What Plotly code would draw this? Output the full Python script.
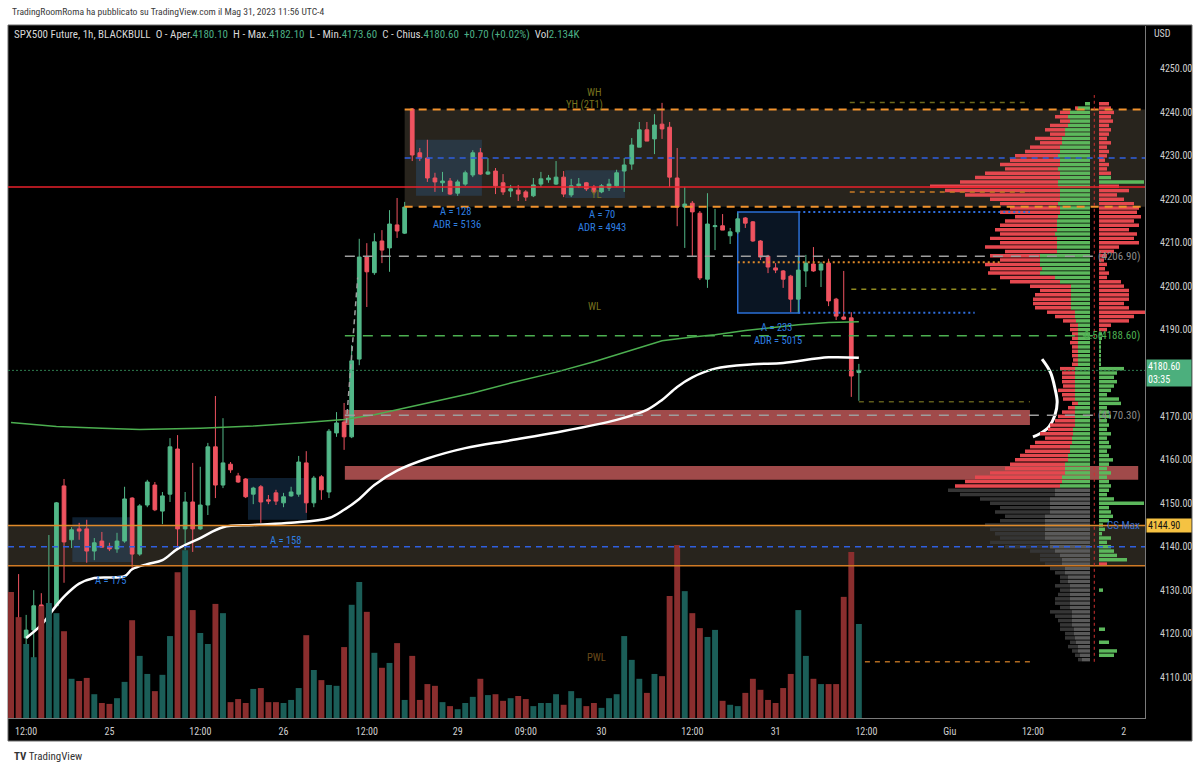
import plotly.graph_objects as go

# ---------------- data ----------------
opens = [4125.9, 4119.7, 4119.0, 4120.8, 4126.6, 4119.2, 4126.4, 4154.0, 4141.6, 4144.1,
         4144.1, 4139.0, 4141.3, 4140.1, 4139.5, 4141.3, 4151.2, 4138.3, 4149.6, 4154.2,
         4148.2, 4152.1, 4162.5, 4144.1, 4150.3, 4144.1, 4149.6, 4163.0, 4154.2, 4159.0,
         4156.3, 4155.6, 4152.1, 4153.8, 4150.8, 4152.4, 4150.1, 4151.7, 4152.1, 4159.3,
         4150.1, 4156.1, 4152.6, 4166.2, 4168.7, 4165.3, 4183.2, 4206.7, 4203.1, 4210.4,
         4208.8, 4214.1, 4212.2, 4240.8, 4230.7, 4229.5, 4224.9, 4223.8, 4224.2, 4221.4,
         4223.5, 4225.6, 4230.7, 4225.8, 4226.5, 4223.8, 4221.9, 4222.1, 4221.7, 4220.8,
         4223.5, 4224.5, 4223.5, 4225.1, 4221.0, 4223.1, 4223.8, 4222.8, 4221.7, 4222.6,
         4223.1, 4226.5, 4228.1, 4232.0, 4236.0, 4233.9, 4237.3, 4236.6, 4224.9, 4218.2,
         4219.1, 4216.8, 4201.6, 4213.7, 4213.9, 4211.6, 4212.5, 4215.7, 4214.8, 4210.4,
         4206.9, 4204.2, 4203.5, 4202.3, 4197.0, 4203.5, 4205.1, 4203.7, 4205.3, 4197.0,
         4192.9, 4192.7, 4180.1]
highs = [4128.7, 4133.7, 4124.3, 4130.0, 4129.3, 4142.7, 4150.3, 4155.6, 4144.5, 4145.5,
         4146.2, 4142.0, 4143.4, 4140.9, 4143.2, 4153.8, 4151.4, 4149.8, 4155.4, 4154.9,
         4152.6, 4165.0, 4165.7, 4152.6, 4159.3, 4158.4, 4163.9, 4174.7, 4169.6, 4159.5,
         4157.0, 4155.8, 4153.8, 4154.2, 4151.9, 4153.1, 4152.4, 4153.8, 4160.9, 4162.0,
         4156.3, 4156.5, 4167.1, 4171.0, 4173.1, 4186.4, 4210.9, 4209.9, 4212.2, 4212.9,
         4217.5, 4220.3, 4219.4, 4241.0, 4231.8, 4233.7, 4226.1, 4226.3, 4224.9, 4224.5,
         4226.6, 4231.3, 4231.8, 4229.5, 4227.2, 4225.8, 4223.3, 4223.3, 4222.1, 4224.9,
         4226.3, 4225.6, 4228.8, 4226.5, 4224.7, 4224.9, 4224.0, 4223.3, 4223.5, 4224.7,
         4226.8, 4229.5, 4234.1, 4237.8, 4237.8, 4239.6, 4242.2, 4237.8, 4231.8, 4222.8,
         4219.6, 4217.3, 4221.4, 4217.8, 4216.6, 4213.4, 4216.8, 4215.9, 4215.0, 4210.6,
         4207.2, 4205.3, 4203.7, 4202.6, 4206.9, 4207.2, 4209.0, 4205.6, 4206.3, 4197.3,
         4203.5, 4194.0, 4182.1]
lows = [4117.8, 4117.8, 4114.6, 4113.2, 4116.1, 4116.7, 4126.1, 4131.7, 4139.7, 4141.6,
        4136.3, 4136.9, 4139.7, 4139.0, 4138.6, 4140.9, 4134.6, 4137.9, 4149.1, 4148.2,
        4145.2, 4150.3, 4139.2, 4139.2, 4138.8, 4143.9, 4147.3, 4151.2, 4153.5, 4157.0,
        4154.7, 4151.2, 4149.8, 4145.5, 4149.8, 4149.6, 4149.1, 4151.5, 4151.5, 4147.8,
        4149.1, 4150.8, 4151.2, 4165.3, 4162.3, 4165.0, 4181.8, 4195.2, 4202.6, 4205.3,
        4203.3, 4211.1, 4212.0, 4228.8, 4228.8, 4224.0, 4221.7, 4221.7, 4221.0, 4220.8,
        4223.1, 4225.1, 4225.6, 4225.6, 4221.2, 4221.0, 4220.5, 4219.6, 4219.6, 4220.5,
        4222.8, 4223.8, 4223.3, 4220.5, 4220.5, 4222.6, 4221.9, 4221.4, 4221.4, 4221.9,
        4222.8, 4221.7, 4226.8, 4232.0, 4233.4, 4230.4, 4233.9, 4222.8, 4213.8, 4208.8,
        4206.7, 4201.4, 4199.6, 4208.3, 4212.9, 4209.7, 4212.0, 4213.4, 4210.2, 4206.0,
        4203.0, 4203.0, 4199.6, 4194.0, 4193.8, 4199.8, 4203.3, 4199.8, 4195.4, 4192.2,
        4192.2, 4174.5, 4173.6]
closes = [4119.2, 4118.8, 4120.8, 4126.4, 4119.2, 4126.1, 4150.1, 4141.1, 4143.9, 4143.6,
          4139.0, 4140.9, 4139.9, 4139.5, 4141.3, 4151.0, 4138.3, 4149.4, 4154.9, 4148.5,
          4151.7, 4163.0, 4144.1, 4150.3, 4144.1, 4149.6, 4163.0, 4154.2, 4159.3, 4157.7,
          4154.9, 4151.5, 4153.5, 4150.3, 4150.5, 4150.5, 4151.5, 4152.6, 4159.5, 4150.1,
          4155.8, 4153.1, 4166.6, 4168.5, 4165.3, 4182.8, 4206.7, 4203.3, 4210.2, 4208.3,
          4214.3, 4212.7, 4218.2, 4230.2, 4229.5, 4224.9, 4224.0, 4224.2, 4221.2, 4224.0,
          4226.1, 4230.7, 4225.8, 4226.3, 4223.1, 4221.7, 4222.4, 4221.2, 4220.5, 4223.3,
          4224.7, 4224.9, 4225.1, 4221.2, 4223.1, 4223.5, 4222.4, 4221.7, 4223.1, 4223.5,
          4226.1, 4227.9, 4232.5, 4236.0, 4233.4, 4237.1, 4236.2, 4225.1, 4218.2, 4218.9,
          4217.1, 4201.9, 4214.3, 4213.9, 4212.9, 4212.5, 4215.5, 4214.5, 4210.4, 4206.7,
          4204.4, 4203.7, 4201.6, 4197.0, 4203.7, 4205.3, 4203.5, 4205.1, 4196.6, 4193.1,
          4192.4, 4179.3, 4180.6]
volumes_k = [2.86, 2.29, 1.68, 1.38, 2.54, 2.61, 2.38, 1.97, 0.89, 0.84,
             0.91, 0.54, 0.34, 0.32, 0.45, 0.82, 2.22, 1.41, 1.00, 0.61,
             0.98, 1.86, 3.31, 3.81, 2.45, 1.93, 1.68, 2.59, 2.38, 0.36,
             0.43, 0.34, 0.66, 0.68, 0.36, 0.36, 0.34, 0.41, 0.68, 1.88,
             1.09, 0.86, 0.75, 0.73, 1.61, 2.57, 3.09, 2.41, 1.48, 1.14,
             1.25, 1.70, 0.41, 1.41, 0.41, 0.77, 0.73, 0.36, 0.27, 0.20,
             0.34, 0.48, 0.89, 0.52, 0.54, 0.39, 0.45, 0.50, 0.43, 0.27,
             0.34, 0.34, 0.54, 0.30, 0.61, 0.45, 0.27, 0.34, 0.23, 0.45,
             0.54, 1.86, 1.32, 0.89, 0.57, 1.00, 0.95, 2.77, 3.93, 2.88,
             2.38, 2.04, 1.84, 2.00, 0.39, 0.30, 0.27, 0.57, 0.89, 0.64,
             0.41, 0.34, 0.68, 1.00, 2.45, 1.41, 0.89, 0.77, 0.77, 0.77,
             2.75, 3.77, 2.134]

tick_pos = [2, 13, 25, 36, 47, 59, 68, 78, 90, 101, 113, 124, 135, 147]
tick_text = ["12:00", "25", "12:00", "26", "12:00", "29", "09:00", "30", "12:00", "31",
             "12:00", "Giu", "12:00", "2"]
# price axis labels (4180 is hidden behind the last-price tag)
price_ticks = [4110, 4120, 4130, 4140, 4150, 4160, 4170, 4190, 4200, 4210, 4220, 4230, 4240, 4250]

# green moving average (bar index, price)
ma_idx = [0, 6, 12, 17, 25, 32, 38, 44, 48, 52, 56, 61, 66, 72, 77, 80, 84, 86, 90, 93, 97, 100, 104, 108, 112]
ma_val = [4168.6, 4167.7, 4167.3, 4167.0, 4167.3, 4167.8, 4168.5, 4169.3, 4170.4, 4171.9,
          4173.5, 4175.4, 4177.7, 4180.2, 4182.6, 4184.2, 4186.4, 4187.4, 4188.3, 4188.8,
          4189.8, 4190.4, 4191.1, 4191.6, 4191.8]
# white anchored vwap-like line
vw_idx = [2, 4, 6, 7, 9, 11, 15, 16, 18, 20, 22, 25, 28, 32, 37, 42, 44, 46, 48, 51, 55, 60,
          66, 72, 80, 84, 86, 88, 90, 93, 98, 102, 108, 112]
vw_val = [4119.0, 4122.0, 4126.5, 4128.5, 4131.5, 4132.8, 4133.2, 4134.8, 4136.0, 4136.9,
          4139.5, 4142.0, 4144.5, 4145.0, 4145.5, 4146.6, 4148.5, 4151.0, 4154.2, 4157.5,
          4160.3, 4162.7, 4164.5, 4166.3, 4169.2, 4171.5, 4173.8, 4176.8, 4179.0, 4181.0,
          4182.0, 4182.3, 4183.6, 4183.5]
# hand drawn bracket
sketch_idx = [136.2, 137.3, 137.9, 138.2, 137.9, 137.1, 135.9, 135.0]
sketch_val = [4183.2, 4180.2, 4176.5, 4173.3, 4170.3, 4167.6, 4166.0, 4165.3]

# volume profile (price rows 4242 .. 4114)
prof_top, prof_bottom = 4242, 4114
value_area_low = 4154
prof_total = [5, 15, 30, 35, 30, 40, 45, 40, 55, 50, 60, 65, 75, 80, 90, 85, 105, 115, 130, 160,
              145, 125, 100, 90, 80, 90, 75, 85, 90, 95, 90, 100, 90, 105, 85, 100, 90, 105, 100, 102,
              90, 80, 60, 50, 55, 57, 57, 55, 43, 35, 27, 20, 20, 18, 18, 20, 18, 18, 18, 17,
              18, 30, 28, 28, 28, 27, 32, 28, 27, 18, 22, 28, 32, 35, 40, 42, 50, 45, 55, 60,
              65, 70, 75, 80, 85, 100, 115, 125, 135, 142, 130, 110, 100, 90, 95, 85, 90, 105, 100, 95,
              90, 100, 85, 60, 50, 50, 45, 40, 35, 30, 30, 35, 30, 32, 35, 35, 30, 40, 35, 32,
              30, 30, 25, 25, 20, 22, 18, 15, 12]
prof_up = [5, 12, 20, 22, 20, 22, 25,
           25, 28, 28, 30, 30, 32, 30, 30, 32, 30,
           30, 32, 32, 30, 30, 30, 32, 30,
           30, 32, 33, 33, 33, 35, 33,
           33, 33, 33,
           50, 50, 50, 48, 50, 35, 30,
           19, 19, 19, 19, 19, 19,
           15, 15, 14, 12, 12, 12,
           12, 12, 12, 12, 12, 12, 12,
           15, 15, 15, 15, 15, 15, 15,
           15, 12, 15, 15, 15, 15, 15, 17, 17, 18, 18,
           20, 20, 22, 22, 25, 25, 25, 28, 28, 30,
           35, 35, 40, 40, 40, 40, 45, 45, 45, 45, 45, 45, 40, 40, 35, 30, 28, 28, 25, 25,
           22, 22, 20, 20, 20, 20, 20, 20, 18, 18, 18, 18, 16, 16, 15, 14, 12, 12, 10, 8]
prof_right = [-10, -12, -15, -12, -14, -10, -12, -10, -8, -12, -8, -10, -8, -6, -10, -8, -12,
              12, 45, -20, -30, -18, -25, -35, -40, -38, -42, -35, -40, -30, -38, -35, -40,
              -20, -15, -8, -5, -8, -6, -10, -8, -22, -25, -30, -30, -30, -25, -30, -48, -35,
              -30, -12, -8, 3, 3, 2, 2, 2, 2, 2, 2, 25, 18, 15, 18, 15, 12, 8, 20, 22,
              8, 10, 12, 8, 10, 8, 12, 8, 10, 12, 8, 10, 14, 10, 8, 12, 8, 10, 12, 10,
              8, 15, 45, 10, 12, 14, 10, 4, 6, 3, 12, 8, 12, 15, 18, 28, -8, 0, 0, 0,
              0, 0, 4, 0, 0, 0, 0, 0, 0, 0, 0, 6, 0, 0, 10, 0, 18, 15, 0]

# key levels
yh_level, yl_level, mid_level, poc_level = 4240.7, 4218.3, 4229.5, 4222.8
lb_top, lb_bottom, lb_mid = 4144.9, 4135.6, 4140.0
fib0_level, fib05_level, fib1_level = 4206.9, 4188.6, 4170.3
last_price = 4180.6
zone1 = (4168.0, 4171.5)
zone2 = (4155.4, 4158.6)

# ---------------- layout helpers ----------------
W, H = 1200, 771
ML, MR, MT, MB = 8, 55, 26, 53
PW, PH = W - ML - MR, H - MT - MB
def pxp(x):
    return (x - ML) / PW
def pyp(y):
    return (H - MB - y) / PH

X_LO, X_HI = -0.4, 149.8
Y_LO, Y_HI = 4100.56, 4259.9
VOL_TOP = 15.71

UP, DN = "#52b788", "#ef5360"
VUP, VDN = "#1b5e58", "#8a2e2e"
FONT = "Liberation Sans Narrow, Roboto Condensed, Roboto, sans-serif"

n = len(opens)
bar_idx = list(range(n))
levels = list(range(prof_top, prof_bottom - 1, -1))

fig = go.Figure()

# volume
fig.add_trace(go.Bar(x=bar_idx, y=volumes_k, yaxis="y2",
                     marker_color=[VUP if c >= o else VDN for o, c in zip(opens, closes)],
                     marker_line_width=0, width=0.78, hoverinfo="skip"))

# left volume profile: outer (sell) part and inner (buy) part
outer_col = ["#e5484f" if lv >= value_area_low else "#353535" for lv in levels]
inner_col = ["#5cb85c" if lv >= value_area_low else "#5a5a5a" for lv in levels]
fig.add_trace(go.Bar(y=levels, x=[t - u for t, u in zip(prof_total, prof_up)], base=prof_up,
                     orientation="h", xaxis="x2", yaxis="y", width=0.8,
                     marker_color=outer_col, marker_line_width=0, hoverinfo="skip"))
fig.add_trace(go.Bar(y=levels, x=prof_up, base=[0] * len(levels),
                     orientation="h", xaxis="x2", yaxis="y", width=0.8,
                     marker_color=inner_col, marker_line_width=0, hoverinfo="skip"))
# right delta profile
fig.add_trace(go.Bar(y=levels, x=[abs(v) for v in prof_right], base=[0] * len(levels),
                     orientation="h", xaxis="x3", yaxis="y", width=0.8,
                     marker_color=["#5cb85c" if v > 0 else "#e5484f" for v in prof_right],
                     marker_line_width=0, hoverinfo="skip"))

# candles
fig.add_trace(go.Candlestick(x=bar_idx, open=opens, high=highs, low=lows, close=closes,
                             increasing=dict(line=dict(color=UP, width=1), fillcolor=UP),
                             decreasing=dict(line=dict(color=DN, width=1), fillcolor=DN),
                             whiskerwidth=0, hoverinfo="skip"))
# indicators
fig.add_trace(go.Scatter(x=ma_idx, y=ma_val, mode="lines", line=dict(color="#4caf50", width=1.5),
                         hoverinfo="skip"))
fig.add_trace(go.Scatter(x=vw_idx, y=vw_val, mode="lines",
                         line=dict(color="#ffffff", width=2.5, shape="spline"), hoverinfo="skip"))
fig.add_trace(go.Scatter(x=sketch_idx, y=sketch_val, mode="lines",
                         line=dict(color="#ffffff", width=3, shape="spline"), hoverinfo="skip"))

shapes = []
# chart backdrop
shapes.append(dict(type="rect", xref="paper", yref="paper", x0=0, x1=pxp(1192), y0=pyp(741), y1=pyp(25),
                   fillcolor="#000000", line=dict(color="#6a6a6a", width=1), layer="below"))

def rect(x0, x1, y0, y1, fill, line=None, layer="below"):
    shapes.append(dict(type="rect", xref="x", yref="y", x0=x0, x1=x1, y0=y0, y1=y1,
                       fillcolor=fill, line=line or dict(width=0), layer=layer))

def hline(x0, x1, y, color, width=1.5, dash="solid"):
    shapes.append(dict(type="line", xref="x", yref="y", x0=x0, x1=x1, y0=y, y1=y,
                       line=dict(color=color, width=width, dash=dash), layer="above"))

BOXFILL = "rgba(125,112,90,0.32)"
NAVY = "rgba(45,95,150,0.32)"
rect(52.0, X_HI, yl_level, yh_level, BOXFILL)
rect(X_LO, X_HI, lb_bottom, lb_top, BOXFILL)
rect(53.5, 62.2, 4220.8, 4233.7, NAVY)
rect(73.2, 81.1, 4220.3, 4226.7, NAVY)
rect(8.1, 16.1, 4136.5, 4146.8, NAVY)
rect(31.3, 39.1, 4146.2, 4155.8, NAVY)
rect(96.0, 104.1, 4193.8, 4217.1, "rgba(30,60,100,0.35)", line=dict(color="#2a6fd6", width=1.5))
rect(44.1, 134.6, zone1[0], zone1[1], "rgba(205,95,95,0.78)")
rect(44.1, 148.9, zone2[0], zone2[1], "rgba(205,95,95,0.78)")

hline(52.0, X_HI, yh_level, "#f0922e", 2, "8px,6px")
hline(52.0, X_HI, yl_level, "#f0922e", 2, "8px,6px")
hline(52.0, X_HI, mid_level, "#2f5fe0", 1.5, "6px,5px")
hline(X_LO - 1, X_HI, poc_level, "#e8212b", 1.5)
hline(X_LO, X_HI, lb_top, "#e08a2a", 1.5)
hline(X_LO, X_HI, lb_bottom, "#d07a25", 1.5)
hline(X_LO, X_HI, lb_mid, "#2f5fe0", 1.5, "6px,5px")
hline(44.1, 143.3, fib0_level, "#9e9e9e", 1.5, "10px,8px")
hline(44.1, 143.3, fib05_level, "#4caf50", 1.5, "10px,8px")
hline(44.1, 143.3, fib1_level, "#9e9e9e", 1.5, "10px,8px")
hline(X_LO, X_HI, last_price, "#2e7d4f", 1, "2px,2px")
hline(110.8, 134.6, 4242.3, "#6e6a1d", 1.5, "5px,5px")
hline(110.8, 134.6, 4221.7, "#c77a25", 1.5, "5px,5px")
hline(96.0, 130.6, 4205.5, "#e08a2a", 2, "2px,3px")
hline(111.0, 130.6, 4199.3, "#8f8a20", 1.5, "5px,5px")
hline(104.0, 134.6, 4217.1, "#2f6fe0", 2, "2px,3px")
hline(104.0, 127.3, 4193.9, "#2f6fe0", 2, "2px,3px")
hline(112.0, 134.6, 4173.4, "#5e5a1a", 1.5, "5px,5px")
hline(112.8, 134.6, 4113.5, "#b06a20", 1.5, "5px,5px")
# diagonal dashed gray guide
shapes.append(dict(type="line", xref="x", yref="y", x0=44.3, x1=45.8, y0=4168.5, y1=4202.0,
                   line=dict(color="#9e9e9e", width=1.5, dash="5px,4px"), layer="above"))
# vertical profile divider
shapes.append(dict(type="line", xref="x", yref="y", x0=143.1, x1=143.1, y0=4113.5, y1=4244.0,
                   line=dict(color="#d03030", width=1, dash="3px,3px"), layer="above"))

annotations = []
def txt(x, y, s, color, size=11, xanchor="center", xref="x", yref="y", **kw):
    annotations.append(dict(x=x, y=y, xref=xref, yref=yref, text=s, showarrow=False,
                            font=dict(color=color, size=size, family=FONT),
                            xanchor=xanchor, yanchor="middle", **kw))

BLUE = "#2e7fe0"
OLIVE = "#77721f"
txt(58.7, 4217.2, "A = 128", BLUE, 10.5)
txt(58.9, 4214.2, "ADR = 5136", BLUE, 10.5)
txt(78.1, 4216.5, "A = 70", BLUE, 10.5)
txt(78.1, 4213.5, "ADR = 4943", BLUE, 10.5)
txt(101.1, 4190.4, "A = 233", BLUE, 10.5)
txt(101.3, 4187.4, "ADR = 5015", BLUE, 10.5)
txt(36.2, 4141.5, "A = 158", BLUE, 10.5)
txt(13.2, 4132.3, "A = 175", BLUE, 10.5)
txt(77.1, 4244.6, "WH", OLIVE, 10.5)
txt(75.8, 4241.9, "YH (2T1)", OLIVE, 10.5)
txt(77.3, 4221.0, "YL", OLIVE, 10.5)
txt(77.1, 4195.2, "WL", OLIVE, 10.5)
txt(77.4, 4114.6, "PWL", "#6a4a1a", 10.5)
txt(149.4, fib0_level, "(4206.90)", "#8a8a8a", xanchor="right")
txt(149.4, fib05_level, "0.5(4188.60)", "#4caf50", xanchor="right")
txt(149.4, fib1_level, "(4170.30)", "#8a8a8a", xanchor="right")
txt(149.4, 4145.0, "CS Max", "#3a6fd0", xanchor="right")

hdr = ("SPX500 Future, 1h, BLACKBULL&nbsp;&nbsp;O - Aper.<span style='color:#4caf85'>4180.10</span>"
       "&nbsp;&nbsp;H - Max.<span style='color:#4caf85'>4182.10</span>"
       "&nbsp;&nbsp;L - Min.<span style='color:#4caf85'>4173.60</span>"
       "&nbsp;&nbsp;C - Chius.<span style='color:#4caf85'>4180.60</span>"
       "&nbsp;&nbsp;<span style='color:#4caf85'>+0.70 (+0.02%)</span>"
       "&nbsp;&nbsp;Vol<span style='color:#4caf85'>2.134K</span>")
txt(pxp(12), pyp(34), hdr, "#d8d8d8", size=11, xanchor="left", xref="paper", yref="paper")
txt(pxp(10), pyp(12), "TradingRoomRoma ha pubblicato su TradingView.com il Mag 31, 2023 11:56 UTC-4",
    "#3a3a3a", size=9.6, xanchor="left", xref="paper", yref="paper")
txt(pxp(12), pyp(757), "<b>TV</b> TradingView", "#333333", size=11, xanchor="left",
    xref="paper", yref="paper")
txt(pxp(1162), pyp(33), "USD", "#d0d0d0", size=10, xref="paper", yref="paper")
annotations.append(dict(x=pxp(1146), y=last_price, xref="paper", yref="y", yshift=-3,
                        text="4180.60<br>03:35", showarrow=False, align="left",
                        font=dict(color="#ffffff", size=10, family=FONT),
                        xanchor="left", yanchor="middle", bgcolor="#4caf7d", width=42, borderpad=1))
annotations.append(dict(x=pxp(1146), y=lb_top, xref="paper", yref="y",
                        text="4144.90", showarrow=False, align="left",
                        font=dict(color="#111111", size=10, family=FONT),
                        xanchor="left", yanchor="middle", bgcolor="#f5c242", width=42, borderpad=1))

fig.update_layout(
    width=W, height=H, autosize=False,
    margin=dict(l=ML, r=MR, t=MT, b=MB),
    paper_bgcolor="#ffffff", plot_bgcolor="#000000",
    showlegend=False, hovermode=False, barmode="overlay",
    shapes=shapes, annotations=annotations,
    xaxis=dict(range=[X_LO, X_HI], showgrid=False, zeroline=False, rangeslider=dict(visible=False),
               tickvals=tick_pos, ticktext=tick_text, ticks="", showline=True, linecolor="#7a7a7a",
               tickfont=dict(color="#cfcfcf", size=10, family=FONT), ticklabelstandoff=4),
    yaxis=dict(range=[Y_LO, Y_HI], side="right", showgrid=False, zeroline=False,
               tickvals=price_ticks, tickformat=".2f", ticks="", showline=True, linecolor="#7a7a7a",
               tickfont=dict(color="#cfcfcf", size=10, family=FONT), ticklabelstandoff=12),
    yaxis2=dict(range=[0, VOL_TOP], overlaying="y", visible=False),
    xaxis2=dict(range=[1082, -55], overlaying="x", visible=False),
    xaxis3=dict(range=[-1091, 46], overlaying="x", visible=False),
)

fig.write_html("out.html")
